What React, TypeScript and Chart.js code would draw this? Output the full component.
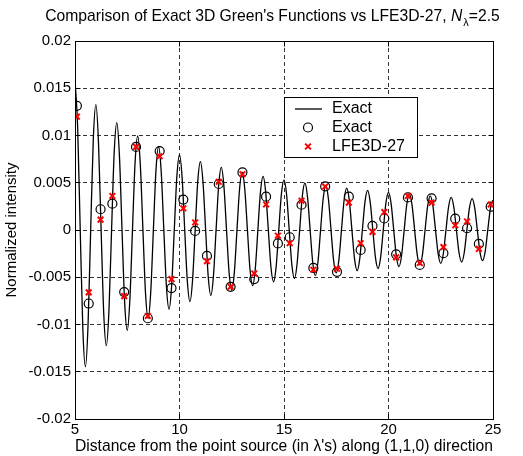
import React, { useEffect, useRef } from 'react';
import { Chart, registerables } from 'chart.js';

Chart.register(...registerables);

// ---- data ----
const EXACT_X = [
  5, 5.125, 5.25, 5.375, 5.5, 5.625, 5.75, 5.875,
  6, 6.125, 6.25, 6.375, 6.5, 6.625, 6.75, 6.875,
  7, 7.125, 7.25, 7.375, 7.5, 7.625, 7.75, 7.875,
  8, 8.125, 8.25, 8.375, 8.5, 8.625, 8.75, 8.875,
  9, 9.125, 9.25, 9.375, 9.5, 9.625, 9.75, 9.875,
  10, 10.125, 10.25, 10.375, 10.5, 10.625, 10.75, 10.875,
  11, 11.125, 11.25, 11.375, 11.5, 11.625, 11.75, 11.875,
  12, 12.125, 12.25, 12.375, 12.5, 12.625, 12.75, 12.875,
  13, 13.125, 13.25, 13.375, 13.5, 13.625, 13.75, 13.875,
  14, 14.125, 14.25, 14.375, 14.5, 14.625, 14.75, 14.875,
  15, 15.125, 15.25, 15.375, 15.5, 15.625, 15.75, 15.875,
  16, 16.125, 16.25, 16.375, 16.5, 16.625, 16.75, 16.875,
  17, 17.125, 17.25, 17.375, 17.5, 17.625, 17.75, 17.875,
  18, 18.125, 18.25, 18.375, 18.5, 18.625, 18.75, 18.875,
  19, 19.125, 19.25, 19.375, 19.5, 19.625, 19.75, 19.875,
  20, 20.125, 20.25, 20.375, 20.5, 20.625, 20.75, 20.875,
  21, 21.125, 21.25, 21.375, 21.5, 21.625, 21.75, 21.875,
  22, 22.125, 22.25, 22.375, 22.5, 22.625, 22.75, 22.875,
  23, 23.125, 23.25, 23.375, 23.5, 23.625, 23.75, 23.875,
  24, 24.125, 24.25, 24.375, 24.5, 24.625, 24.75, 24.875,
  25,
];
const EXACT_Y = [
  0.015916, 0.010980, 0, -0.010469, -0.014469, -0.010004, 0, 0.009578,
  0.013263, 0.009187, 0, -0.008827, -0.012243, -0.008494, 0, 0.008185,
  0.011369, 0.007898, 0, -0.007630, -0.010611, -0.007380, 0, 0.007145,
  0.009948, 0.006926, 0, -0.006719, -0.009362, -0.006524, 0, 0.006340,
  0.008842, 0.006167, 0, -0.006002, -0.008377, -0.005846, 0, 0.005698,
  0.007958, 0.005558, 0, -0.005424, -0.007579, -0.005296, 0, 0.005174,
  0.007235, 0.005058, 0, -0.004947, -0.006920, -0.004840, 0, 0.004739,
  0.006632, 0.004641, 0, -0.004547, -0.006366, -0.004457, 0, 0.004370,
  0.006122, 0.004287, 0, -0.004207, -0.005895, -0.004130, 0, 0.004056,
  0.005684, 0.003984, 0, -0.003914, -0.005488, -0.003847, 0, 0.003783,
  0.005305, 0.003720, 0, -0.003660, -0.005134, -0.003601, 0, 0.003545,
  0.004974, 0.003490, 0, -0.003436, -0.004823, -0.003385, 0, 0.003334,
  0.004681, 0.003286, 0, -0.003239, -0.004547, -0.003192, 0, 0.003148,
  0.004421, 0.003105, 0, -0.003062, -0.004302, -0.003021, 0, 0.002981,
  0.004188, 0.002942, 0, -0.002904, -0.004081, -0.002867, 0, 0.002831,
  0.003979, 0.002796, 0, -0.002762, -0.003882, -0.002728, 0, 0.002696,
  0.003790, 0.002664, 0, -0.002633, -0.003701, -0.002602, 0, 0.002572,
  0.003617, 0.002543, 0, -0.002515, -0.003537, -0.002487, 0, 0.002460,
  0.003460, 0.002433, 0, -0.002408, -0.003386, -0.002382, 0, 0.002357,
  0.003316, 0.002332, 0, -0.002309, -0.003248, -0.002285, 0, 0.002262,
  0.003183,
];
const SAMPLE_X = [
  5.091, 5.657, 6.223, 6.788, 7.354, 7.920, 8.485, 9.051, 9.617, 10.182,
  10.748, 11.314, 11.879, 12.445, 13.011, 13.576, 14.142, 14.708, 15.274, 15.839,
  16.405, 16.971, 17.536, 18.102, 18.668, 19.233, 19.799, 20.365, 20.930, 21.496,
  22.062, 22.627, 23.193, 23.759, 24.324, 24.890,
];
const SAMPLE_EXACT_Y = [
  0.013136, -0.007780, 0.002196, 0.002789, -0.006574, 0.008793, -0.009338, 0.008345, -0.006150, 0.003222,
  -0.000093, -0.002742, 0.004866, -0.006017, 0.006102, -0.005198, 0.003528, -0.001418, -0.000767, 0.002673,
  -0.004010, 0.004609, -0.004421, 0.003525, -0.002107, 0.000433, 0.001217, -0.002579, 0.003444, -0.003701,
  0.003339, -0.002449, 0.001201, 0.000185, -0.001475, 0.002465,
];
const LFE_Y = [
  0.0120, -0.0066, 0.0011, 0.0036, -0.0070, 0.0088, -0.0091, 0.0078, -0.0052, 0.0023,
  0.0008, -0.0033, 0.0051, -0.0060, 0.0059, -0.0046, 0.0027, -0.0006, -0.0014, 0.0031,
  -0.0042, 0.0046, -0.0041, 0.0029, -0.0014, -0.0002, 0.0019, -0.0029, 0.0036, -0.0035,
  0.0029, -0.0018, 0.0005, 0.0009, -0.0020, 0.0027,
];
const X_TICKS = [5, 10, 15, 20, 25];
const X_TICK_LABELS = ['5', '10', '15', '20', '25'];
const Y_TICKS = [-0.02, -0.015, -0.01, -0.005, 0, 0.005, 0.01, 0.015, 0.02];
const Y_TICK_LABELS = ['-0.02', '-0.015', '-0.01', '-0.005', '0', '0.005', '0.01', '0.015', '0.02'];
const TITLE_MAIN = "Comparison of Exact 3D Green's Functions vs LFE3D-27, ";
const TITLE_N = 'N';
const TITLE_SUB = 'λ';
const TITLE_TAIL = '=2.5';
const X_LABEL = "Distance from the point source (in λ's) along (1,1,0) direction";
const Y_LABEL = 'Normalized intensity';
const LEGEND_LABELS = ['Exact', 'Exact', 'LFE3D-27'];

const FONT = '"Liberation Sans", Arial, Helvetica, sans-serif';

const decorPlugin = {
  id: 'decor',
  afterDraw(chart: any) {
    const { ctx, chartArea: a, scales } = chart;
    const al = (v: number) => Math.round(v - 0.5) + 0.5;
    const L = al(a.left), R = al(a.right), T = al(a.top), B = al(a.bottom);
    ctx.save();
    ctx.setLineDash([]);
    ctx.strokeStyle = '#000';
    ctx.lineWidth = 1;
    // inward tick marks
    ctx.beginPath();
    X_TICKS.forEach((v) => {
      const x = al(scales.x.getPixelForValue(v));
      ctx.moveTo(x, B); ctx.lineTo(x, B - 5);
      ctx.moveTo(x, T); ctx.lineTo(x, T + 5);
    });
    Y_TICKS.forEach((v) => {
      const y = al(scales.y.getPixelForValue(v));
      ctx.moveTo(L, y); ctx.lineTo(L + 5, y);
      ctx.moveTo(R, y); ctx.lineTo(R - 5, y);
    });
    ctx.stroke();
    // box
    ctx.strokeRect(L, T, R - L, B - T);

    // title
    ctx.fillStyle = '#000';
    ctx.textBaseline = 'alphabetic';
    ctx.textAlign = 'left';
    const fMain = `15.7px ${FONT}`;
    const fItal = `italic 15.7px ${FONT}`;
    const fSub = `11px ${FONT}`;
    ctx.font = fMain; const w1 = ctx.measureText(TITLE_MAIN).width;
    ctx.font = fItal; const w2 = ctx.measureText(TITLE_N).width;
    ctx.font = fSub; const w3 = ctx.measureText(TITLE_SUB).width;
    ctx.font = fMain; const w4 = ctx.measureText(TITLE_TAIL).width;
    const total = w1 + w2 + 1 + w3 + w4;
    let tx = 272.5 - total / 2;
    const ty = 20.5;
    ctx.font = fMain; ctx.fillText(TITLE_MAIN, tx, ty); tx += w1;
    ctx.font = fItal; ctx.fillText(TITLE_N, tx, ty); tx += w2 + 1;
    ctx.font = fSub; ctx.fillText(TITLE_SUB, tx, ty + 5); tx += w3;
    ctx.font = fMain; ctx.fillText(TITLE_TAIL, tx, ty);

    // legend
    const lx = 284.5, ly = 97.5, lw = 133, lh = 60;
    ctx.fillStyle = '#fff';
    ctx.fillRect(lx, ly, lw, lh);
    ctx.strokeStyle = '#000';
    ctx.lineWidth = 1;
    ctx.strokeRect(lx, ly, lw, lh);
    const rows = [109, 127.5, 146.5];
    // line sample
    ctx.lineWidth = 1.3;
    ctx.beginPath(); ctx.moveTo(295, rows[0]); ctx.lineTo(322, rows[0]); ctx.stroke();
    // circle sample
    ctx.lineWidth = 1.2;
    ctx.beginPath(); ctx.arc(308, rows[1], 4.5, 0, Math.PI * 2); ctx.stroke();
    // x sample
    ctx.strokeStyle = '#ff0000';
    ctx.lineWidth = 2;
    const r = 2.9;
    ctx.beginPath();
    ctx.moveTo(308 - r, rows[2] - r); ctx.lineTo(308 + r, rows[2] + r);
    ctx.moveTo(308 - r, rows[2] + r); ctx.lineTo(308 + r, rows[2] - r);
    ctx.stroke();
    ctx.fillStyle = '#000';
    ctx.font = `16px ${FONT}`;
    ctx.textBaseline = 'middle';
    LEGEND_LABELS.forEach((t, i) => ctx.fillText(t, 332, rows[i]));
    ctx.restore();
  },
};

export default function App() {
  const ref = useRef<HTMLCanvasElement>(null);
  useEffect(() => {
    document.body.style.margin = '0';
    const chart = new Chart(ref.current as HTMLCanvasElement, {
      type: 'scatter',
      data: {
        datasets: [
          {
            label: LEGEND_LABELS[0],
            data: EXACT_X.map((x, i) => ({ x, y: EXACT_Y[i] })),
            showLine: true,
            borderColor: '#000',
            borderWidth: 1.3,
            pointRadius: 0,
            cubicInterpolationMode: 'monotone',
            order: 3,
          } as any,
          {
            label: LEGEND_LABELS[1],
            data: SAMPLE_X.map((x, i) => ({ x, y: SAMPLE_EXACT_Y[i] })),
            showLine: false,
            pointStyle: 'circle',
            pointRadius: 4.5,
            borderColor: '#000',
            backgroundColor: 'rgba(0,0,0,0)',
            pointBorderWidth: 1.2,
            order: 2,
          } as any,
          {
            label: LEGEND_LABELS[2],
            data: SAMPLE_X.map((x, i) => ({ x, y: LFE_Y[i] })),
            showLine: false,
            pointStyle: 'crossRot',
            pointRadius: 4,
            borderColor: '#ff0000',
            backgroundColor: '#ff0000',
            pointBorderWidth: 2,
            order: 1,
          } as any,
        ],
      },
      options: {
        responsive: false,
        animation: false,
        devicePixelRatio: 1,
        layout: { padding: { top: 41, right: 30, left: 0, bottom: 0 } },
        plugins: {
          legend: { display: false },
          tooltip: { enabled: false },
          title: { display: false },
        },
        scales: {
          x: {
            type: 'linear',
            min: 5,
            max: 25,
            afterBuildTicks: (s: any) => { s.ticks = X_TICKS.map((v) => ({ value: v })); },
            afterFit: (s: any) => { s.height = 37; },
            ticks: {
              autoSkip: false,
              maxRotation: 0,
              padding: 2,
              color: '#000',
              font: { family: FONT, size: 15 },
              callback: (_v: any, i: number) => X_TICK_LABELS[i],
            },
            grid: { color: 'rgba(0,0,0,0.8)', lineWidth: 1, drawTicks: false },
            border: { display: true, color: '#000', dash: [4, 3] },
            title: {
              display: true,
              text: X_LABEL,
              color: '#000',
              font: { family: FONT, size: 16.2 },
              padding: { top: 0, bottom: 0 },
            },
          },
          y: {
            type: 'linear',
            min: -0.02,
            max: 0.02,
            afterBuildTicks: (s: any) => { s.ticks = Y_TICKS.map((v) => ({ value: v })); },
            afterFit: (s: any) => { s.width = 75; },
            ticks: {
              autoSkip: false,
              padding: 4,
              color: '#000',
              font: { family: FONT, size: 15 },
              callback: (_v: any, i: number) => Y_TICK_LABELS[i],
            },
            grid: { color: 'rgba(0,0,0,0.8)', lineWidth: 1, drawTicks: false },
            border: { display: true, color: '#000', dash: [4, 3] },
            title: {
              display: true,
              text: Y_LABEL,
              color: '#000',
              font: { family: FONT, size: 15 },
              padding: { top: 3, bottom: 0 },
            },
          },
        },
      },
      plugins: [decorPlugin],
    } as any);
    return () => chart.destroy();
  }, []);
  return (
    <div style={{ position: 'relative', width: 523, height: 456, background: '#fff' }}>
      <canvas ref={ref} width={523} height={456} style={{ display: 'block', width: 523, height: 456 }} />
    </div>
  );
}
